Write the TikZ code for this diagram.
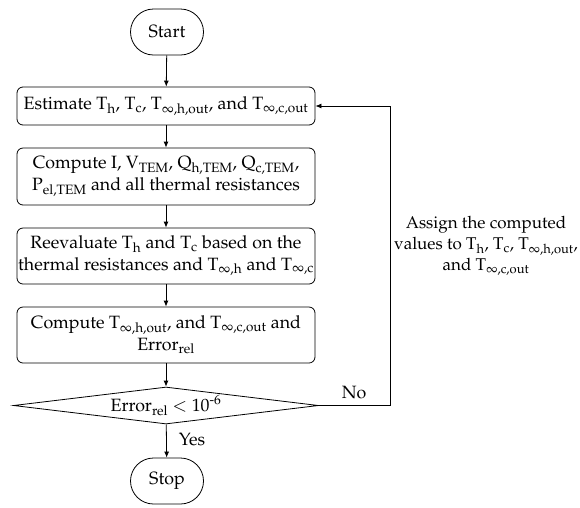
\documentclass[tikz,border=0pt]{standalone}
\usepackage[T1]{fontenc}
\usepackage{mathpazo}
\usetikzlibrary{shapes.geometric,arrows.meta}
\newcommand{\inftysub}[1]{\textsubscript{$\infty$,#1}}
\begin{document}
\begin{tikzpicture}[x=1pt,y=-1pt,
  every node/.style={font=\fontsize{17.8}{21.5}\selectfont},
  term/.style={draw,line width=0.8pt,rounded corners=23pt,minimum width=73pt,minimum height=46pt,inner sep=0pt},
  procbox/.style={draw,line width=0.8pt,rounded corners=6pt,minimum width=298pt,align=center,inner sep=0pt},
  decide/.style={draw,line width=0.8pt,diamond,aspect=8,minimum width=305pt,minimum height=37pt,inner sep=0pt},
  flow/.style={line width=0.8pt,-{Latex[length=6pt,width=5pt]}},
  lbl/.style={inner sep=0pt}]
\useasboundingbox (0,0) rectangle (580,507);
\node[term] (start) at (167,32) {Start};
\node[procbox,minimum height=38pt] (b1) at (166,106) {Estimate T\textsubscript{h}, T\textsubscript{c}, T\inftysub{h,out}, and T\inftysub{c,out}};
\node[procbox,minimum height=57pt] (b2) at (166,176.5) {Compute I, V\textsubscript{TEM}, Q\textsubscript{h,TEM}, Q\textsubscript{c,TEM},\\P\textsubscript{el,TEM} and all thermal resistances};
\node[procbox,minimum height=56pt] (b3) at (166,256) {Reevaluate T\textsubscript{h} and T\textsubscript{c} based on the\\thermal resistances and T\inftysub{h} and T\inftysub{c}};
\node[procbox,minimum height=56pt] (b4) at (166,335) {Compute T\inftysub{h,out}, and T\inftysub{c,out} and\\Error\textsubscript{rel}};
\node[decide] (d) at (166,405.5) {Error\textsubscript{rel} $<$ 10\textsuperscript{-6}};
\node[term] (stop) at (167,481) {Stop};
\node[lbl] (yes) at (192,440) {Yes};
\node[lbl] (no) at (354,393) {No};
\node[lbl,align=center,font=\fontsize{17}{21}\selectfont] (assign) at (486,246) {Assign the computed\\values to T\textsubscript{h}, T\textsubscript{c}, T\inftysub{h,out},\\and T\inftysub{c,out}};
\coordinate (c1) at (390,405.5);
\coordinate (c2) at (390,106);
\draw[flow] (start) -- (b1);
\draw[flow] (b1) -- (b2);
\draw[flow] (b2) -- (b3);
\draw[flow] (b3) -- (b4);
\draw[flow] (b4) -- (d);
\draw[flow] (d) -- (stop);
\draw[flow] (d.east) -- (c1) -- (c2) -- (b1.east);
\end{tikzpicture}
\end{document}
